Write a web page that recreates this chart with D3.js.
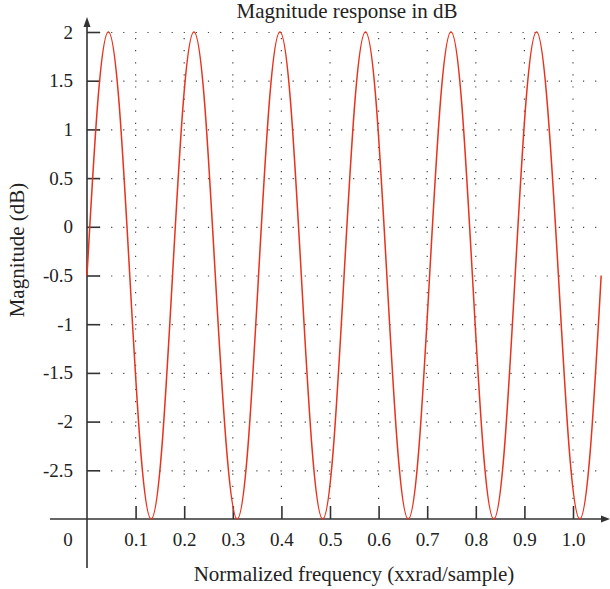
<!DOCTYPE html>
<html>
<head>
<meta charset="utf-8">
<script src="https://cdn.jsdelivr.net/npm/d3@7"></script>
<style>
  body { margin: 0; background: #fff; }
  text { font-family: "Liberation Serif", "DejaVu Serif", serif; fill: #222; }
</style>
</head>
<body>
<svg id="chart" width="610" height="589"></svg>
<script>
// values
const freq = [0, 0.022, 0.044, 0.066, 0.088, 0.110, 0.132, 0.154,
  0.176, 0.198, 0.220, 0.242, 0.264, 0.287, 0.309, 0.331,
  0.353, 0.375, 0.397, 0.419, 0.441, 0.463, 0.485, 0.507,
  0.529, 0.551, 0.573, 0.595, 0.617, 0.639, 0.661, 0.683,
  0.705, 0.727, 0.749, 0.771, 0.793, 0.815, 0.837, 0.859,
  0.881, 0.903, 0.925, 0.947, 0.970, 0.992, 1.014, 1.036, 1.058];
const magDb = [-0.5, 1.27, 2, 1.27, -0.5, -2.27, -3, -2.27,
  -0.5, 1.27, 2, 1.27, -0.5, -2.27, -3, -2.27,
  -0.5, 1.27, 2, 1.27, -0.5, -2.27, -3, -2.27,
  -0.5, 1.27, 2, 1.27, -0.5, -2.27, -3, -2.27,
  -0.5, 1.27, 2, 1.27, -0.5, -2.27, -3, -2.27,
  -0.5, 1.27, 2, 1.27, -0.5, -2.27, -3, -2.27, -0.5];
const xTicks = [0.1, 0.2, 0.3, 0.4, 0.5, 0.6, 0.7, 0.8, 0.9, 1.0];
const yTicks = [2, 1.5, 1, 0.5, 0, -0.5, -1, -1.5, -2, -2.5];

const svg = d3.select("#chart");
const x = d3.scaleLinear().domain([0, 1]).range([87, 573]);
const y = d3.scaleLinear().domain([-3, 2]).range([519, 32]);
const ink = "#333";

// dotted grid
svg.append("g").selectAll("line")
  .data(yTicks).enter().append("line")
  .attr("x1", 99).attr("x2", 606)
  .attr("y1", d => y(d) + 0.5).attr("y2", d => y(d) + 0.5)
  .attr("stroke", "#444").attr("stroke-width", 1.2)
  .attr("stroke-dasharray", "1.2,10.9");
svg.append("g").selectAll("line")
  .data(xTicks).enter().append("line")
  .attr("x1", d => x(d)).attr("x2", d => x(d))
  .attr("y1", 38).attr("y2", 506)
  .attr("stroke", "#444").attr("stroke-width", 1.2)
  .attr("stroke-dasharray", "1.2,10.9");

// axes
const yAxis = d3.axisLeft(y).tickValues(yTicks).tickSizeInner(-13).tickSizeOuter(0)
  .tickPadding(14).tickFormat(d => String(d));
const gy = svg.append("g").attr("transform", "translate(87,0)").call(yAxis);
const xAxis = d3.axisBottom(x).tickValues(xTicks).tickSizeInner(-13).tickSizeOuter(0)
  .tickPadding(12).tickFormat(d3.format(".1f"));
const gx = svg.append("g").attr("transform", "translate(0,519)").call(xAxis);
[gx, gy].forEach(g => {
  g.select(".domain").remove();
  g.selectAll(".tick line").attr("stroke", ink).attr("stroke-width", 1.6);
  g.selectAll(".tick text").attr("font-size", 19)
    .attr("font-family", "Liberation Serif, DejaVu Serif, serif").attr("fill", "#222");
});
gx.selectAll(".tick text").attr("dy", "0.8em");

// axis lines with arrowheads
svg.append("line").attr("x1", 50).attr("x2", 604).attr("y1", 519).attr("y2", 519)
  .attr("stroke", ink).attr("stroke-width", 1.6);
svg.append("path").attr("d", "M610,519 L601,515.5 L601,522.5 Z").attr("fill", ink);
svg.append("line").attr("x1", 87).attr("x2", 87).attr("y1", 568).attr("y2", 24)
  .attr("stroke", ink).attr("stroke-width", 1.6);
svg.append("path").attr("d", "M87,17 L83.5,27 L90.5,27 Z").attr("fill", ink);

// origin label
svg.append("text").attr("x", 68).attr("y", 539).attr("text-anchor", "middle")
  .attr("dy", "0.35em").attr("font-size", 19).text("0");

// curve
const line = d3.line().x((d, i) => x(freq[i])).y(d => y(d)).curve(d3.curveNatural);
svg.append("path").datum(magDb).attr("d", line)
  .attr("fill", "none").attr("stroke", "#e8321c").attr("stroke-width", 1.5);

// titles
svg.append("text").attr("x", 347).attr("y", 18).attr("text-anchor", "middle")
  .attr("font-size", 21).text("Magnitude response in dB");
svg.append("text").attr("x", 354).attr("y", 581).attr("text-anchor", "middle")
  .attr("font-size", 21).text("Normalized frequency (xxrad/sample)");
svg.append("text").attr("transform", "translate(24,250) rotate(-90)")
  .attr("text-anchor", "middle").attr("font-size", 21).text("Magnitude (dB)");
</script>
</body>
</html>
